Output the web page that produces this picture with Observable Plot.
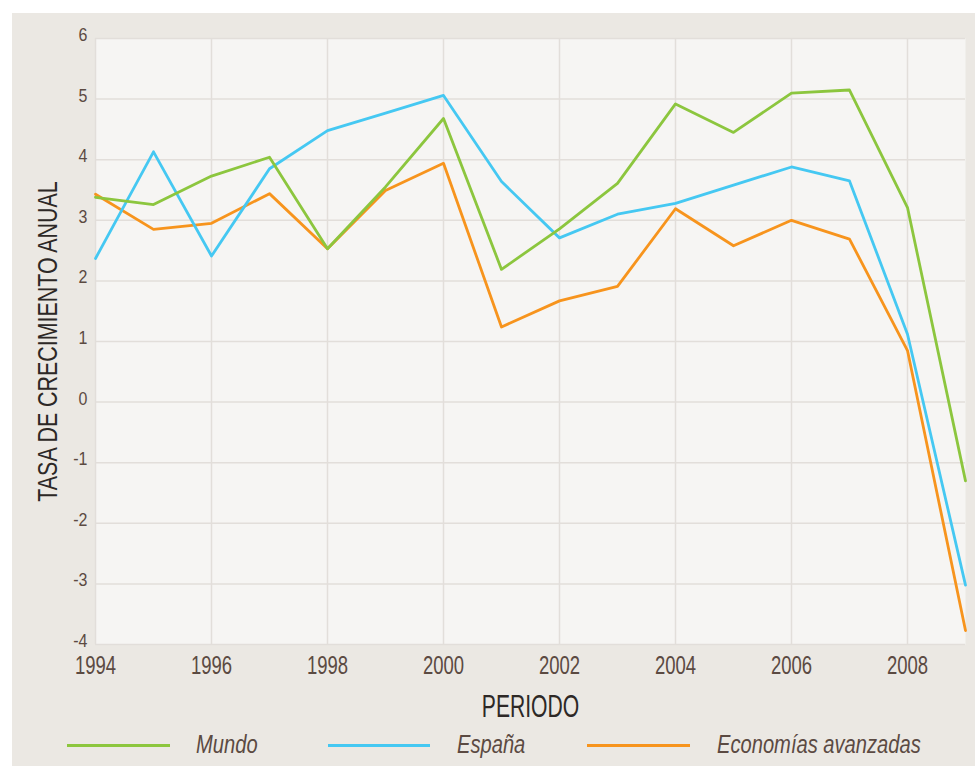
<!DOCTYPE html>
<html>
<head>
<meta charset="utf-8">
<script src="https://cdn.jsdelivr.net/npm/d3@7"></script>
<script src="https://cdn.jsdelivr.net/npm/@observablehq/plot@0.6"></script>
<style>
  html, body { margin: 0; padding: 0; background: #fff; }
  #page { position: relative; width: 975px; height: 766px; overflow: hidden; background: #fff; }
  #panel { position: absolute; left: 12px; top: 13px; width: 963px; height: 753px; background: #ebe8e3; }
  #chart { position: absolute; left: 0; top: 0; }
  #legend { position: absolute; left: 0; top: 725px; width: 975px; height: 41px; }
  .lg-line { position: absolute; height: 3px; top: 19px; }
  .lg-text { position: absolute; top: 5.5px; font-style: italic; font-size: 26.5px; line-height: 1; color: #5b4a42;
             white-space: nowrap; transform: scaleX(0.76); transform-origin: 0 50%; }
</style>
</head>
<body>
<div id="page">
  <div id="panel"></div>
  <div id="chart"></div>
  <div id="legend"></div>
</div>
<script>
const FONT = '"Liberation Sans", Arial, sans-serif';

const years = [1994, 1995, 1996, 1997, 1998, 1999, 2000, 2001, 2002, 2003, 2004, 2005, 2006, 2007, 2008, 2009];
const mundo = [3.38, 3.26, 3.73, 4.04, 2.53, 3.55, 4.68, 2.19, 2.86, 3.61, 4.92, 4.45, 5.10, 5.15, 3.21, -1.30];
const espana = [2.37, 4.13, 2.41, 3.85, 4.48, 4.77, 5.06, 3.64, 2.71, 3.10, 3.28, 3.58, 3.88, 3.65, 1.12, -3.02];
const avanzadas = [3.43, 2.85, 2.95, 3.44, 2.53, 3.49, 3.94, 1.24, 1.67, 1.91, 3.19, 2.58, 3.00, 2.69, 0.85, -3.77];

const seriesNames = ["Economías avanzadas", "España", "Mundo"];
const seriesColors = ["#f7941d", "#45c8f2", "#8cc63e"];
const legendOrder = ["Mundo", "España", "Economías avanzadas"];

const xTicks = [1994, 1996, 1998, 2000, 2002, 2004, 2006, 2008];
const yTicks = [-4, -3, -2, -1, 0, 1, 2, 3, 4, 5, 6];

const yTitle = "TASA DE CRECIMIENTO ANUAL";
const xTitle = "PERIODO";

const seriesValues = {"Mundo": mundo, "España": espana, "Economías avanzadas": avanzadas};
const rows = seriesNames.flatMap(name => years.map((year, i) => ({series: name, year, value: seriesValues[name][i]})));

const chart = Plot.plot({
  width: 975,
  height: 725,
  marginLeft: 95,
  marginRight: 10,
  marginTop: 38,
  marginBottom: 81,
  x: {domain: [1994, 2009]},
  y: {domain: [-4, 6]},
  color: {domain: seriesNames, range: seriesColors},
  style: {background: "transparent", fontFamily: FONT, color: "#5b4a42", overflow: "visible"},
  marks: [
    Plot.frame({fill: "#f6f5f3", stroke: null}),
    Plot.gridX({ticks: xTicks, stroke: "#e2deda", strokeOpacity: 1, strokeWidth: 1.5}),
    Plot.gridY({ticks: yTicks, stroke: "#e2deda", strokeOpacity: 1, strokeWidth: 1.5}),
    Plot.axisX({ticks: xTicks, tickFormat: d => String(d), tickSize: 0, tickPadding: 12, fontSize: 25, label: null}),
    Plot.axisY({ticks: yTicks, tickFormat: d => String(d), tickSize: 0, tickPadding: 8, fontSize: 18.6, dy: -3.5, label: null}),
    Plot.line(rows, {x: "year", y: "value", z: "series", stroke: "series", strokeWidth: 2.8}),
    Plot.text([yTitle], {frameAnchor: "left", rotate: -90, dx: -47, fontSize: 28, fill: "#2d2826",
                         textAnchor: "middle", lineAnchor: "middle"}),
    Plot.text([xTitle], {frameAnchor: "bottom", dy: 62, fontSize: 32, fill: "#2d2826",
                         textAnchor: "middle", lineAnchor: "middle"})
  ]
});
document.getElementById("chart").appendChild(chart);

// Condensed look: squeeze text horizontally around its anchor
const xTickStr = new Set(xTicks.map(String));
const yTickStr = new Set(yTicks.map(String));
chart.querySelectorAll("text").forEach(t => {
  const s = t.textContent;
  let sx = null;
  if (xTickStr.has(s)) sx = 0.74;
  else if (yTickStr.has(s)) sx = 0.86;
  else if (s === yTitle) sx = 0.765;
  else if (s === xTitle) sx = 0.66;
  if (sx == null) return;
  let tr = t.getAttribute("transform");
  if (!tr) {
    const x = +(t.getAttribute("x") || 0), y = +(t.getAttribute("y") || 0);
    t.removeAttribute("x"); t.removeAttribute("y");
    tr = `translate(${x},${y})`;
  }
  t.setAttribute("transform", `${tr} scale(${sx},1)`);
});

// Legend (HTML, below the SVG)
const legendPos = {
  "Mundo": {line: [67, 170], text: 196},
  "España": {line: [328, 430], text: 457},
  "Economías avanzadas": {line: [587, 690], text: 717}
};
const legend = document.getElementById("legend");
legendOrder.forEach(name => {
  const color = seriesColors[seriesNames.indexOf(name)];
  const p = legendPos[name];
  const ln = document.createElement("div");
  ln.className = "lg-line";
  ln.style.left = p.line[0] + "px";
  ln.style.width = (p.line[1] - p.line[0]) + "px";
  ln.style.background = color;
  legend.appendChild(ln);
  const tx = document.createElement("div");
  tx.className = "lg-text";
  tx.style.left = p.text + "px";
  tx.style.fontFamily = FONT;
  tx.textContent = name;
  legend.appendChild(tx);
});
</script>
</body>
</html>
